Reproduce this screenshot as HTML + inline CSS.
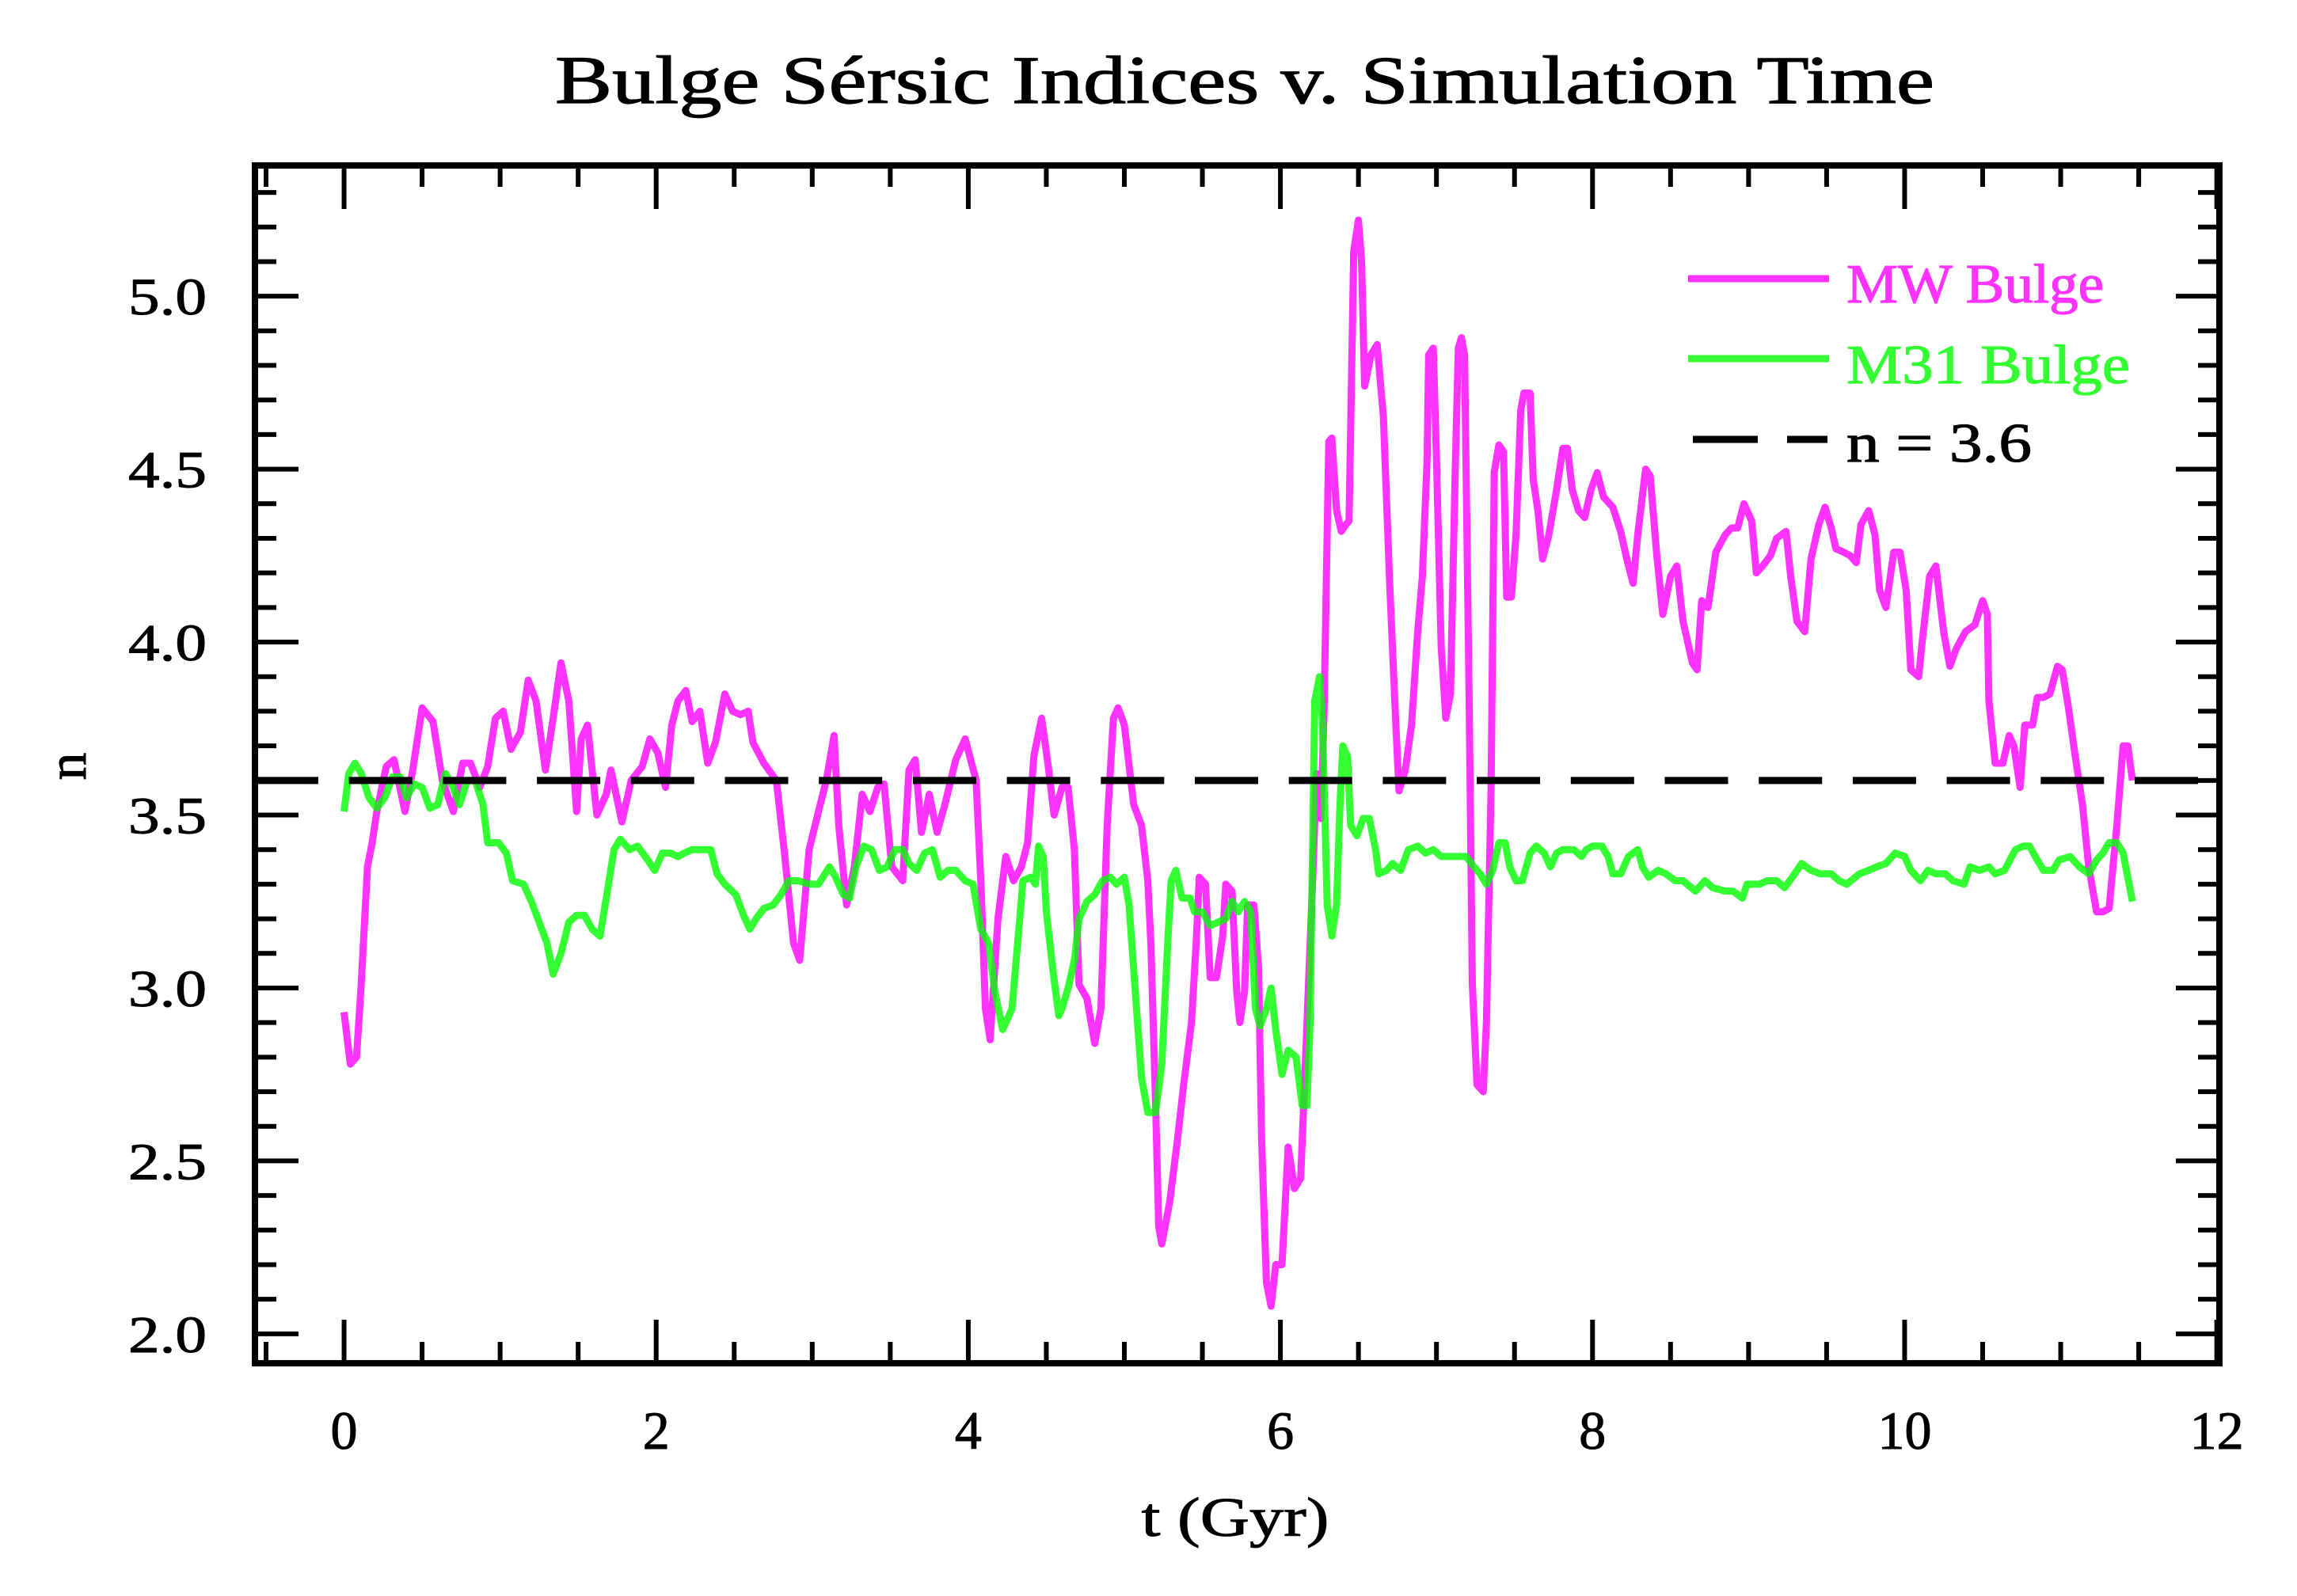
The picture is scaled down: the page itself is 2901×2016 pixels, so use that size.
<!DOCTYPE html>
<html><head><meta charset="utf-8"><title>Bulge Sérsic Indices v. Simulation Time</title>
<style>html,body{margin:0;padding:0;background:#fff}svg{display:block}text{font-family:"Liberation Serif","DejaVu Serif",serif;fill:#000}</style>
</head><body>
<svg id="chart" width="2901" height="2016" viewBox="0 0 2901 2016" xmlns="http://www.w3.org/2000/svg">
<rect width="2901" height="2016" fill="#fff"/>
<text x="701" y="130" font-size="86" textLength="1742" lengthAdjust="spacingAndGlyphs" stroke="#000" stroke-width="1.2">Bulge Sérsic Indices v. Simulation Time</text>
<g id="ticks"></g>
<g id="labels"></g>
<g id="series"></g>
<rect x="322" y="209" width="2481" height="1513" fill="none" stroke="#000" stroke-width="8"/>
<text x="1560" y="1940" font-size="70" text-anchor="middle" textLength="237" lengthAdjust="spacingAndGlyphs" stroke="#000" stroke-width="1">t (Gyr)</text>
<text x="0" y="0" font-size="70" text-anchor="middle" stroke="#000" stroke-width="1" transform="translate(108,968) rotate(-90)">n</text>
<g>
<line x1="2132" y1="352" x2="2310" y2="352" stroke="#ff00ff" stroke-opacity="0.8" stroke-width="9"/>
<text x="2332" y="382" font-size="70" style="fill:#ff33ff" stroke="#ff33ff" stroke-width="1.2" textLength="325" lengthAdjust="spacingAndGlyphs">MW Bulge</text>
<line x1="2132" y1="453" x2="2310" y2="453" stroke="#00ff00" stroke-opacity="0.8" stroke-width="9"/>
<text x="2332" y="484" font-size="70" style="fill:#33ff33" stroke="#33ff33" stroke-width="1.2" textLength="358" lengthAdjust="spacingAndGlyphs">M31 Bulge</text>
<line x1="2138" y1="555" x2="2220" y2="555" stroke="#000" stroke-width="9"/>
<line x1="2257" y1="555" x2="2308" y2="555" stroke="#000" stroke-width="9"/>
<text x="2332" y="583" font-size="70" stroke="#000" stroke-width="1.2" textLength="234" lengthAdjust="spacingAndGlyphs">n = 3.6</text>
</g>
</svg>
<script>
const xTickValues = [0, 2, 4, 6, 8, 10, 12];
const xTickLabels = ["0", "2", "4", "6", "8", "10", "12"];
const yTickValues = [2.0, 2.5, 3.0, 3.5, 4.0, 4.5, 5.0];
const yTickLabels = ["2.0", "2.5", "3.0", "3.5", "4.0", "4.5", "5.0"];
const refValue = 3.6;
const tMW = [0.00,0.04,0.08,0.11,0.15,0.18,0.21,0.27,0.32,0.39,0.44,0.50,0.57,0.63,0.70,0.76,0.81,0.87,0.92,0.97,1.02,1.07,1.13,1.18,1.23,1.29,1.34,1.39,1.44,1.49,1.52,1.56,1.62,1.68,1.71,1.78,1.84,1.91,1.96,2.01,2.06,2.10,2.14,2.19,2.23,2.28,2.33,2.38,2.44,2.49,2.54,2.59,2.62,2.69,2.77,2.82,2.88,2.92,2.98,3.04,3.09,3.14,3.17,3.22,3.27,3.32,3.37,3.42,3.46,3.51,3.58,3.62,3.66,3.70,3.75,3.80,3.85,3.92,3.98,4.05,4.08,4.11,4.14,4.19,4.24,4.29,4.34,4.38,4.42,4.47,4.51,4.55,4.60,4.64,4.68,4.71,4.76,4.81,4.85,4.89,4.93,4.96,5.00,5.06,5.11,5.15,5.17,5.20,5.22,5.24,5.29,5.34,5.38,5.43,5.46,5.48,5.52,5.55,5.59,5.63,5.65,5.69,5.72,5.74,5.77,5.79,5.83,5.86,5.88,5.91,5.94,5.97,6.01,6.05,6.09,6.13,6.16,6.21,6.23,6.26,6.28,6.31,6.33,6.36,6.39,6.42,6.44,6.47,6.50,6.52,6.54,6.58,6.62,6.66,6.70,6.74,6.76,6.80,6.84,6.88,6.91,6.94,6.95,6.98,7.00,7.03,7.06,7.09,7.12,7.14,7.16,7.18,7.21,7.23,7.26,7.30,7.32,7.35,7.37,7.40,7.43,7.45,7.48,7.51,7.54,7.56,7.60,7.62,7.65,7.68,7.72,7.77,7.81,7.84,7.87,7.91,7.95,7.99,8.03,8.07,8.13,8.18,8.22,8.26,8.29,8.34,8.37,8.41,8.45,8.50,8.54,8.58,8.64,8.67,8.70,8.74,8.79,8.85,8.89,8.93,8.97,9.02,9.05,9.09,9.14,9.18,9.24,9.27,9.31,9.36,9.40,9.45,9.49,9.53,9.56,9.61,9.65,9.69,9.72,9.77,9.81,9.84,9.88,9.93,9.97,10.01,10.04,10.09,10.11,10.16,10.20,10.25,10.29,10.33,10.39,10.45,10.50,10.53,10.54,10.58,10.63,10.67,10.70,10.74,10.77,10.82,10.85,10.89,10.93,10.98,11.01,11.05,11.09,11.14,11.18,11.23,11.27,11.31,11.36,11.40,11.43,11.46];
const nMW = [2.93,2.78,2.80,3.01,3.35,3.42,3.51,3.64,3.66,3.51,3.63,3.81,3.77,3.60,3.51,3.65,3.65,3.58,3.64,3.78,3.80,3.69,3.74,3.89,3.83,3.63,3.78,3.94,3.83,3.51,3.72,3.76,3.50,3.56,3.63,3.48,3.60,3.64,3.72,3.68,3.58,3.76,3.83,3.86,3.77,3.80,3.65,3.71,3.85,3.80,3.79,3.80,3.71,3.65,3.60,3.40,3.13,3.08,3.40,3.51,3.60,3.73,3.47,3.24,3.35,3.56,3.51,3.58,3.59,3.35,3.31,3.63,3.66,3.45,3.56,3.45,3.53,3.66,3.72,3.60,3.31,2.94,2.85,3.20,3.38,3.31,3.35,3.42,3.67,3.78,3.65,3.50,3.58,3.58,3.40,3.01,2.97,2.84,2.94,3.47,3.78,3.81,3.76,3.53,3.47,3.31,3.13,2.67,2.31,2.26,2.38,2.56,2.72,2.90,3.13,3.32,3.30,3.03,3.03,3.15,3.30,3.28,2.99,2.90,2.99,3.24,3.24,3.06,2.56,2.15,2.08,2.20,2.20,2.54,2.42,2.45,2.78,3.35,3.62,3.49,3.81,4.58,4.59,4.38,4.32,4.34,4.35,5.13,5.22,5.10,4.74,4.83,4.86,4.65,4.17,3.76,3.57,3.63,3.76,4.03,4.19,4.53,4.83,4.85,4.53,3.99,3.78,3.85,4.49,4.85,4.88,4.83,3.81,3.01,2.72,2.70,2.90,3.58,4.49,4.57,4.55,4.13,4.13,4.31,4.67,4.72,4.72,4.47,4.38,4.24,4.31,4.44,4.56,4.56,4.44,4.38,4.36,4.44,4.49,4.42,4.39,4.32,4.24,4.17,4.31,4.50,4.48,4.26,4.08,4.19,4.22,4.06,3.94,3.92,4.12,4.10,4.26,4.31,4.33,4.33,4.40,4.35,4.20,4.22,4.25,4.30,4.32,4.19,4.06,4.03,4.24,4.34,4.39,4.33,4.27,4.26,4.25,4.23,4.34,4.38,4.31,4.15,4.10,4.26,4.26,4.15,3.92,3.90,3.99,4.19,4.22,4.03,3.93,3.98,4.03,4.05,4.12,4.08,3.83,3.65,3.65,3.73,3.70,3.58,3.76,3.76,3.84,3.84,3.85,3.93,3.92,3.81,3.68,3.53,3.35,3.22,3.22,3.23,3.47,3.70,3.70,3.60];
const tM31 = [0.00,0.03,0.07,0.11,0.16,0.21,0.26,0.31,0.36,0.40,0.45,0.50,0.55,0.60,0.65,0.70,0.74,0.79,0.84,0.89,0.92,0.99,1.04,1.08,1.15,1.20,1.25,1.30,1.34,1.39,1.44,1.49,1.54,1.59,1.64,1.68,1.73,1.77,1.83,1.88,1.93,1.99,2.04,2.09,2.14,2.18,2.23,2.30,2.35,2.39,2.44,2.51,2.56,2.60,2.64,2.69,2.75,2.80,2.85,2.91,2.98,3.04,3.11,3.15,3.20,3.24,3.28,3.33,3.38,3.43,3.48,3.53,3.58,3.62,3.67,3.72,3.77,3.82,3.87,3.92,3.98,4.03,4.08,4.13,4.17,4.22,4.28,4.32,4.35,4.40,4.43,4.45,4.48,4.50,4.54,4.58,4.60,4.64,4.68,4.71,4.76,4.81,4.86,4.91,4.95,5.00,5.03,5.07,5.11,5.15,5.20,5.24,5.28,5.30,5.33,5.37,5.42,5.45,5.50,5.55,5.60,5.65,5.69,5.73,5.77,5.81,5.84,5.87,5.91,5.94,5.97,6.01,6.05,6.10,6.14,6.17,6.19,6.22,6.25,6.27,6.30,6.33,6.36,6.38,6.40,6.43,6.45,6.49,6.53,6.57,6.61,6.63,6.68,6.72,6.77,6.82,6.88,6.93,6.98,7.03,7.09,7.14,7.19,7.24,7.28,7.32,7.36,7.40,7.44,7.47,7.51,7.55,7.60,7.64,7.69,7.73,7.77,7.81,7.88,7.93,7.96,8.00,8.06,8.10,8.13,8.18,8.23,8.29,8.32,8.36,8.42,8.47,8.53,8.58,8.66,8.72,8.77,8.85,8.90,8.96,8.99,9.07,9.12,9.18,9.23,9.28,9.34,9.40,9.46,9.53,9.58,9.63,9.71,9.77,9.82,9.88,9.94,10.00,10.04,10.10,10.15,10.20,10.26,10.31,10.38,10.42,10.48,10.54,10.58,10.64,10.71,10.76,10.80,10.85,10.89,10.95,10.99,11.06,11.12,11.18,11.23,11.27,11.31,11.36,11.40,11.43,11.46];
const nM31 = [3.51,3.62,3.65,3.62,3.55,3.52,3.55,3.61,3.61,3.55,3.59,3.58,3.52,3.53,3.62,3.58,3.53,3.60,3.60,3.53,3.42,3.42,3.39,3.31,3.30,3.25,3.19,3.13,3.04,3.10,3.19,3.21,3.21,3.17,3.15,3.26,3.40,3.43,3.40,3.41,3.38,3.34,3.39,3.39,3.38,3.39,3.40,3.40,3.40,3.33,3.30,3.27,3.21,3.17,3.20,3.23,3.24,3.27,3.31,3.31,3.30,3.30,3.35,3.32,3.27,3.26,3.35,3.41,3.40,3.34,3.35,3.40,3.40,3.36,3.34,3.39,3.40,3.32,3.34,3.34,3.31,3.30,3.17,3.13,2.99,2.88,2.94,3.15,3.31,3.32,3.30,3.41,3.38,3.22,3.06,2.92,2.94,3.00,3.08,3.20,3.25,3.27,3.31,3.32,3.30,3.32,3.24,2.99,2.74,2.64,2.64,2.78,3.15,3.31,3.34,3.26,3.26,3.22,3.22,3.18,3.19,3.20,3.25,3.22,3.25,3.22,2.94,2.89,2.94,3.00,2.88,2.75,2.82,2.80,2.66,2.66,2.90,3.83,3.90,3.76,3.24,3.15,3.24,3.51,3.70,3.67,3.47,3.44,3.49,3.49,3.40,3.33,3.34,3.36,3.34,3.40,3.41,3.39,3.40,3.38,3.38,3.38,3.38,3.35,3.33,3.30,3.34,3.42,3.42,3.35,3.31,3.31,3.39,3.41,3.39,3.35,3.39,3.40,3.40,3.38,3.40,3.41,3.41,3.38,3.33,3.33,3.38,3.40,3.35,3.32,3.34,3.33,3.31,3.31,3.28,3.31,3.29,3.28,3.28,3.26,3.30,3.30,3.31,3.31,3.29,3.32,3.36,3.34,3.33,3.33,3.31,3.30,3.33,3.34,3.35,3.36,3.39,3.38,3.34,3.31,3.34,3.33,3.33,3.31,3.30,3.35,3.34,3.35,3.33,3.34,3.40,3.41,3.41,3.37,3.34,3.34,3.37,3.38,3.35,3.33,3.37,3.39,3.42,3.42,3.39,3.32,3.25];

const X0 = 322, X1 = 2803, Y0 = 209, Y1 = 1722;
const xMin = -0.571, xMax = 12.017, yMin = 1.915, yMax = 5.378;
function xs(t) { return X0 + (t - xMin) / (xMax - xMin) * (X1 - X0); }
function ys(n) { return Y1 - (n - yMin) / (yMax - yMin) * (Y1 - Y0); }
const NS = "http://www.w3.org/2000/svg";
function mk(tag, attrs, parent) {
  const e = document.createElementNS(NS, tag);
  for (const k in attrs) e.setAttribute(k, attrs[k]);
  parent.appendChild(e);
  return e;
}
const tickG = document.getElementById("ticks");
const labG = document.getElementById("labels");
const serG = document.getElementById("series");

for (let v = -0.5; v <= 12.001; v += 0.5) {
  const major = Math.abs(v / 2 - Math.round(v / 2)) < 1e-6;
  const L = major ? 55 : 27;
  const x = xs(v);
  const b = mk("line", {x1: x, y1: Y1, x2: x, y2: Y1 - L, stroke: "#000", "stroke-width": 6}, tickG);
  
  
  const t = mk("line", {x1: x, y1: Y0, x2: x, y2: Y0 + L, stroke: "#000", "stroke-width": 6}, tickG);
  
  
}
for (let i = 20; i <= 53; i++) {
  const v = i / 10;
  if (v < yMin || v > yMax) continue;
  const major = i % 5 === 0;
  const L = major ? 55 : 27;
  const y = ys(v);
  const l = mk("line", {x1: X0, y1: y, x2: X0 + L, y2: y, stroke: "#000", "stroke-width": 6}, tickG);
  
  
  const r = mk("line", {x1: X1, y1: y, x2: X1 - L, y2: y, stroke: "#000", "stroke-width": 6}, tickG);
  
  
}
xTickValues.forEach((v, i) => {
  const t = mk("text", {x: xs(v), y: 1830, "font-size": 68, "text-anchor": "middle", stroke: "#000", "stroke-width": 1}, labG);
  t.textContent = xTickLabels[i];
  
  
});
yTickValues.forEach((v, i) => {
  const t = mk("text", {x: 261, y: ys(v) + 23, "font-size": 66, "text-anchor": "end", textLength: 99, lengthAdjust: "spacingAndGlyphs", stroke: "#000", "stroke-width": 1}, labG);
  t.textContent = yTickLabels[i];
  
  
});

function pts(ta, na) { return ta.map((t, i) => xs(t).toFixed(1) + "," + ys(na[i]).toFixed(1)).join(" "); }
const mw = mk("polyline", {points: pts(tMW, nMW), fill: "none", stroke: "#ff00ff", "stroke-opacity": 0.8, "stroke-width": 9, "stroke-linejoin": "round"}, serG);


const m31 = mk("polyline", {points: pts(tM31, nM31), fill: "none", stroke: "#00ff00", "stroke-opacity": 0.8, "stroke-width": 9, "stroke-linejoin": "round"}, serG);


const ref = mk("line", {x1: X0, y1: ys(refValue), x2: X1, y2: ys(refValue), stroke: "#000", "stroke-width": 9, "stroke-dasharray": "80 38.7"}, serG);


</script>
</body></html>
